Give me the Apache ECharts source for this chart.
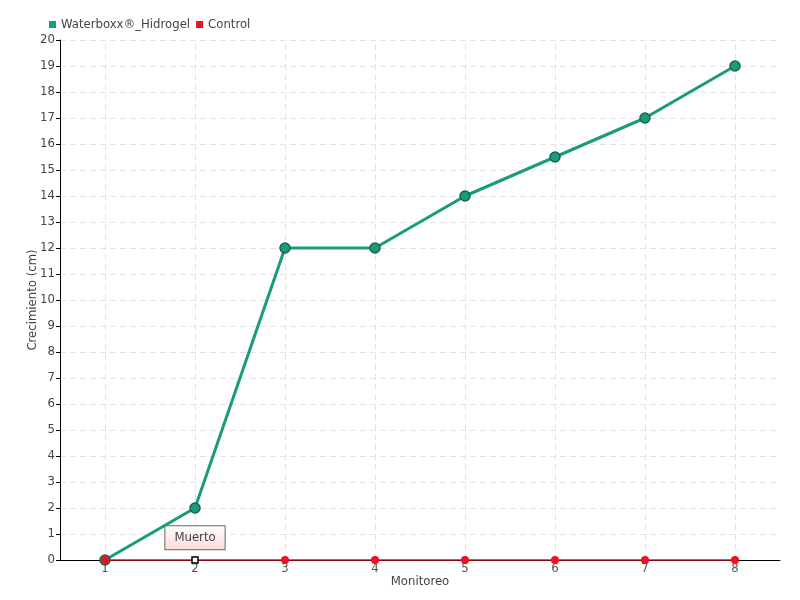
<!DOCTYPE html>
<html><head><meta charset="utf-8">
<script src="https://cdn.jsdelivr.net/npm/echarts@6/dist/echarts.min.js"></script>
<style>html,body{margin:0;padding:0;background:#fff}#c{width:800px;height:600px}</style>
</head><body><div id="c"></div>
<script>
const categories = ['1','2','3','4','5','6','7','8'];
const waterboxx = [0, 2, 12, 12, 14, 15.5, 17, 19];
const control = [0, 0, 0, 0, 0, 0, 0, 0];
const deadIndex = 1;
const deadLabel = 'Muerto';
const seriesNames = ['Waterboxx®_Hidrogel', 'Control'];
const FONT = '"Liberation Sans Narrow","DejaVu Sans Condensed","Roboto",sans-serif';

const chart = echarts.init(document.getElementById('c'));
const controlData = control.map((v, i) => i === deadIndex ? {
  value: v, symbol: 'rect', symbolSize: 6,
  itemStyle: {color: '#fff', borderColor: '#000', borderWidth: 1.5},
  label: {show: true, position: 'top', distance: 7, formatter: deadLabel,
    color: '#444', fontSize: 13, fontFamily: FONT,
    backgroundColor: {type: 'linear', x: 0, y: 0, x2: 0, y2: 1,
      colorStops: [{offset: 0, color: '#ffffff'}, {offset: 1, color: '#fcd9d9'}]},
    borderColor: '#666', borderWidth: 1, padding: [5, 9, 5, 9]}
} : v);

chart.setOption({
  animation: false,
  textStyle: {fontFamily: FONT},
  legend: {left: 44, top: 13, itemWidth: 7, itemHeight: 7, itemGap: 6,
    icon: 'rect', itemStyle: {borderWidth: 0},
    textStyle: {fontSize: 13, color: '#444', fontFamily: FONT},
    data: seriesNames},
  grid: {left: 60, right: 20, top: 40, bottom: 40},
  xAxis: {type: 'category', data: categories, boundaryGap: true,
    name: 'Monitoreo', nameLocation: 'middle', nameGap: 15, nameMoveOverlap: false,
    nameTextStyle: {fontSize: 13, color: '#444', fontFamily: FONT},
    axisLine: {lineStyle: {color: '#000'}},
    axisTick: {show: false},
    axisLabel: {fontSize: 13, color: '#555', margin: 2, fontFamily: FONT},
    splitLine: {show: false}},
  yAxis: {type: 'value', min: 0, max: 20, interval: 1,
    name: 'Crecimiento (cm)', nameLocation: 'middle', nameGap: 21, nameMoveOverlap: false,
    nameTextStyle: {fontSize: 13, color: '#444', fontFamily: FONT},
    axisLine: {show: true, lineStyle: {color: '#000'}},
    axisTick: {show: true, length: 4, lineStyle: {color: '#000'}},
    axisLabel: {fontSize: 13, color: '#444', margin: 5, fontFamily: FONT},
    splitLine: {show: true, lineStyle: {color: '#e3e3e3', type: [6, 4]}}},
  series: [
    {name: seriesNames[0], type: 'line', data: waterboxx, z: 3,
      color: '#1a9b7c', symbol: 'circle', symbolSize: 10,
      lineStyle: {width: 3, color: '#1a9b7c'},
      itemStyle: {color: '#1a9b7c', borderColor: '#14664f', borderWidth: 1.5},
      markLine: {silent: true, symbol: 'none', z: 1, label: {show: false},
        lineStyle: {color: '#e3e3e3', type: [6, 4], width: 1},
        data: categories.map(c => ({xAxis: c}))}},
    {name: seriesNames[1], type: 'line', data: controlData, z: 4,
      color: '#ee1122', symbol: 'circle', symbolSize: 8,
      lineStyle: {width: 1.6, color: '#ee1122'},
      itemStyle: {color: '#ee1122'}}
  ]
});
</script></body></html>
